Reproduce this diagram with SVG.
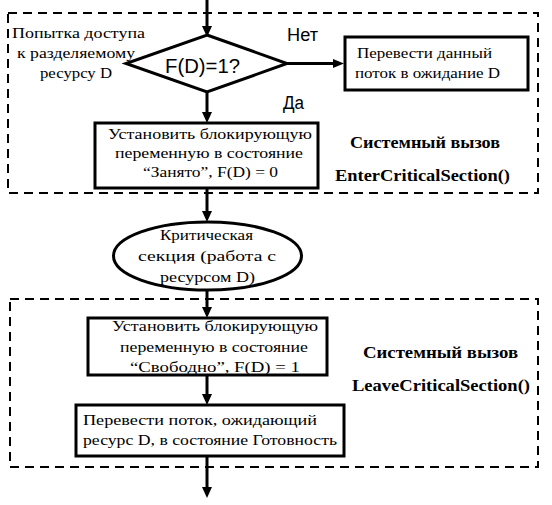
<svg xmlns="http://www.w3.org/2000/svg" width="552" height="505" viewBox="0 0 552 505">
<style>
.frame{fill:none;stroke:#000;stroke-width:2;stroke-dasharray:9,6}
.box{fill:#fff;stroke:#000;stroke-width:3}
.ln{stroke:#000;stroke-width:3}
</style>
<rect width="552" height="505" fill="#fff"/>
<g id="frame-enter" font-family="Liberation Serif" font-size="16" font-weight="bold" lengthAdjust="spacingAndGlyphs">
<rect class="frame" x="8" y="13" width="530" height="180"/>
<text x="350" y="148" textLength="150" lengthAdjust="spacingAndGlyphs">Системный вызов</text>
<text x="335" y="181" textLength="175" lengthAdjust="spacingAndGlyphs">EnterCriticalSection()</text>
</g>
<g id="frame-leave" font-family="Liberation Serif" font-size="16" font-weight="bold">
<rect class="frame" x="10" y="299" width="528" height="168"/>
<text x="363" y="358" textLength="155" lengthAdjust="spacingAndGlyphs">Системный вызов</text>
<text x="352" y="391" textLength="178" lengthAdjust="spacingAndGlyphs">LeaveCriticalSection()</text>
</g>
<g id="connectors" fill="#000">
<line class="ln" x1="207" y1="0" x2="207" y2="27"/>
<line class="ln" x1="287" y1="63.5" x2="334" y2="63.5" stroke-width="2.5"/>
<line class="ln" x1="207" y1="92" x2="207" y2="113"/>
<line class="ln" x1="207" y1="188" x2="207" y2="212"/>
<line class="ln" x1="207" y1="290" x2="207" y2="308"/>
<line class="ln" x1="207" y1="375" x2="207" y2="395"/>
<line class="ln" x1="207" y1="456" x2="207" y2="488"/>
<polygon points="202,26 212,26 207,37"/>
<polygon points="333,59 333,68 344,63.5"/>
<polygon points="202,112 212,112 207,123"/>
<polygon points="202,211 212,211 207,222"/>
<polygon points="202,307 212,307 207,318"/>
<polygon points="202,394 212,394 207,405"/>
<polygon points="202,487 212,487 207,498"/>
<g font-family="Liberation Sans" font-size="18">
<text x="287" y="41" textLength="31" lengthAdjust="spacingAndGlyphs">Нет</text>
<text x="283" y="109" textLength="21" lengthAdjust="spacingAndGlyphs">Да</text>
</g>
</g>
<g id="label-access" font-family="Liberation Serif" font-size="15">
<text x="12" y="38" textLength="133" lengthAdjust="spacingAndGlyphs">Попытка доступа</text>
<text x="17" y="58" textLength="118" lengthAdjust="spacingAndGlyphs">к разделяемому</text>
<text x="40" y="78" textLength="72" lengthAdjust="spacingAndGlyphs">ресурсу D</text>
</g>
<g id="decision">
<polygon points="207,35 287,63.5 207,92 126,63.5" fill="#fff" stroke="#000" stroke-width="3"/>
<text font-family="Liberation Sans" font-size="20" x="165" y="73" textLength="75" lengthAdjust="spacingAndGlyphs">F(D)=1?</text>
</g>
<g id="wait" font-family="Liberation Serif" font-size="15">
<rect class="box" x="345" y="37" width="183" height="53"/>
<text x="357" y="58" textLength="135" lengthAdjust="spacingAndGlyphs">Перевести данный</text>
<text x="355" y="78" textLength="145" lengthAdjust="spacingAndGlyphs">поток в ожидание D</text>
</g>
<g id="lock" font-family="Liberation Serif" font-size="15">
<rect class="box" x="95" y="123" width="223" height="65"/>
<text x="108" y="139" textLength="204" lengthAdjust="spacingAndGlyphs">Установить блокирующую</text>
<text x="115" y="158" textLength="188" lengthAdjust="spacingAndGlyphs">переменную в состояние</text>
<text x="143" y="177" textLength="135" lengthAdjust="spacingAndGlyphs">“Занято”, F(D) = 0</text>
</g>
<g id="critical" font-family="Liberation Serif" font-size="15">
<ellipse cx="207.5" cy="256" rx="94" ry="34" fill="#fff" stroke="#000" stroke-width="3"/>
<text x="160" y="240" textLength="93" lengthAdjust="spacingAndGlyphs">Критическая</text>
<text x="138" y="261" textLength="138" lengthAdjust="spacingAndGlyphs">секция (работа с</text>
<text x="160" y="282" textLength="95" lengthAdjust="spacingAndGlyphs">ресурсом D)</text>
</g>
<g id="unlock" font-family="Liberation Serif" font-size="15">
<rect class="box" x="88" y="318" width="239" height="57"/>
<text x="112" y="331" textLength="206" lengthAdjust="spacingAndGlyphs">Установить блокирующую</text>
<text x="120" y="352" textLength="188" lengthAdjust="spacingAndGlyphs">переменную в состояние</text>
<text x="130" y="372" textLength="170" lengthAdjust="spacingAndGlyphs">“Свободно”, F(D) = 1</text>
</g>
<g id="ready" font-family="Liberation Serif" font-size="15">
<rect class="box" x="76" y="405" width="268" height="51"/>
<text x="83" y="425" textLength="234" lengthAdjust="spacingAndGlyphs">Перевести поток, ожидающий</text>
<text x="83" y="445" textLength="254" lengthAdjust="spacingAndGlyphs">ресурс D, в состояние Готовность</text>
</g>
</svg>
